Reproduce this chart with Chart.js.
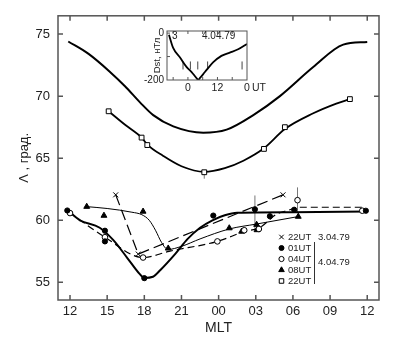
<!DOCTYPE html>
<html>
<head>
<meta charset="utf-8">
<script src="https://cdn.jsdelivr.net/npm/chart.js@4.4.1/dist/chart.umd.min.js"></script>
<style>
  html, body { margin: 0; padding: 0; background: #fff; }
  #wrap { position: relative; width: 418px; height: 340px; }
  #main { position: absolute; left: 0; top: 0; }
  #inset { position: absolute; left: 135px; top: 22px; }
</style>
</head>
<body>
<div id="wrap">
  <canvas id="main" width="418" height="340"></canvas>
  <canvas id="inset" width="140" height="75"></canvas>
</div>
<script>
// Main panel: latitude vs MLT (hours run on past midnight, 24 = 00, 36 = 12)
const mltTicks = [12, 15, 18, 21, 24, 27, 30, 33, 36];
const mltLabels = ['12', '15', '18', '21', '00', '03', '06', '09', '12'];
const latTicks = [55, 60, 65, 70, 75];

// upper smooth curve (no markers)
const outerCurve = [[11.86, 74.4], [13.5, 73.4], [15.23, 71.95], [16.44, 70.8], [17.65, 69.5], [18.72, 68.47],
  [20.34, 67.56], [22.76, 67.05], [24.65, 67.3], [26.8, 68.47], [28.95, 70.0], [31.64, 72.34], [34.06, 74.15], [36.0, 74.36]];

// 22UT 4.04.79 (open squares) and the smooth curve through them
const sq22UT = [[15.12, 68.78], [17.78, 66.66], [18.24, 66.06], [22.84, 63.87], [27.66, 65.75], [29.35, 67.5], [34.6, 69.76]];
const sqCurve = [[15.12, 68.78], [16.5, 67.65], [17.78, 66.66], [18.24, 66.1], [19.5, 65.2], [21.0, 64.35], [22.84, 63.9],
  [24.5, 64.2], [26.0, 64.8], [27.66, 65.8], [29.35, 67.35], [31.6, 68.6], [33.5, 69.4], [34.6, 69.76]];

// 22UT 3.04.79 (crosses, long dashes)
const x22UT = [[15.69, 62.05], [17.51, 57.28], [29.2, 62.05]];

// 01UT (filled circles, thick solid)
const c01UT = [[11.78, 60.79], [14.82, 59.16], [14.82, 58.3], [18.0, 55.34], [23.57, 60.38], [26.93, 60.89],
  [28.14, 60.33], [30.1, 60.85], [35.89, 60.77]];
const line01 = [[11.8, 60.8], [12.8, 60.0], [14.4, 59.4], [15.5, 58.4], [16.6, 57.0], [17.6, 55.7], [18.0, 55.35],
  [18.7, 55.45], [19.3, 56.0], [20.5, 57.3], [21.5, 58.5], [22.5, 59.4], [23.5, 60.0], [24.5, 60.4], [25.5, 60.6],
  [30.0, 60.65], [36.0, 60.7]];

// 04UT (open circles, dashed)
const o04UT = [[12.0, 60.58], [14.82, 58.64], [17.9, 57.0], [23.9, 58.3], [26.07, 59.2], [27.25, 59.3],
  [30.37, 61.62], [35.6, 60.77]];
const line04 = [[12.0, 60.6], [14.8, 58.65], [17.9, 57.0], [20.0, 57.5], [23.9, 58.3], [26.1, 59.1], [27.3, 59.4],
  [28.7, 60.5], [29.6, 60.8], [30.5, 61.05], [35.6, 61.05]];

// 08UT (filled triangles, thin solid)
const t08UT = [[13.35, 61.1], [14.74, 60.38], [17.9, 60.71], [19.93, 57.74], [24.86, 59.37], [25.86, 59.1],
  [27.07, 59.65], [27.1, 59.22], [30.43, 60.3]];
const line08 = [[13.35, 61.1], [15.0, 60.95], [17.0, 60.65], [17.8, 60.45], [18.4, 60.0], [18.9, 59.2], [19.4, 58.2],
  [19.9, 57.65], [21.0, 57.9], [22.5, 58.5], [24.86, 59.3], [27.07, 59.7], [30.43, 60.3]];

// vertical error bars: [mlt, low, high]
const errBars = [[22.84, 63.35, 63.9], [26.93, 59.2, 62.0], [30.37, 60.6, 62.65]];

const legendLabels = ['22UT', '01UT', '04UT', '08UT', '22UT'];
const legendDates = ['3.04.79', '4.04.79'];

// Inset: Dst, nT vs UT (hours from 0 UT on 4.04.79)
const dstCurve = [[-7.7, -7], [-6.0, -63], [-3.2, -104], [-0.5, -145], [1.5, -166], [3.5, -192], [4.2, -198],
  [5.0, -190], [6.9, -166], [10.2, -125], [13.6, -97], [17.0, -83], [20.4, -69], [24.0, -46]];
const obsTimes = [-2, 1, 4, 8, 22];
const obsLevel = -138;
const utTicks = [-6, 0, 6, 12, 18, 24];
const utLabels = { 0: '0', 12: '12', 24: '0' };
const dstTicks = [0, -100, -200];
const dstLabels = { 0: '0', '-200': '-200' };

Chart.defaults.font.family = "'Liberation Sans', Arial, sans-serif";
Chart.defaults.color = '#222';

const pts = arr => arr.map(([x, y]) => ({ x, y }));

function lineSet(data, width, dash, interp) {
  return {
    data: pts(data), borderColor: '#000', borderWidth: width, borderDash: dash || [],
    pointRadius: 0, fill: false, tension: 0,
    cubicInterpolationMode: interp ? 'monotone' : 'default'
  };
}
function markSet(data, style, fill, r) {
  return {
    data: pts(data), showLine: false, pointStyle: style, pointRadius: r,
    pointBackgroundColor: fill, pointBorderColor: '#000', pointBorderWidth: 1
  };
}

// frame with inward ticks on chosen sides
const frameTicks = {
  id: 'frameTicks',
  afterDatasetsDraw(chart, args, opts) {
    const { ctx, chartArea: a, scales: { x, y } } = chart;
    ctx.save();
    ctx.strokeStyle = opts.color;
    ctx.lineWidth = opts.width;
    ctx.strokeRect(a.left, a.top, a.right - a.left, a.bottom - a.top);
    ctx.beginPath();
    x.ticks.forEach(t => {
      const px = x.getPixelForValue(t.value);
      if (px <= a.left + 1 || px >= a.right - 1) return;
      ctx.moveTo(px, a.bottom); ctx.lineTo(px, a.bottom - opts.len);
      if (opts.top) { ctx.moveTo(px, a.top); ctx.lineTo(px, a.top + opts.len); }
    });
    y.ticks.forEach(t => {
      const py = y.getPixelForValue(t.value);
      if (py <= a.top + 1 || py >= a.bottom - 1) return;
      ctx.moveTo(a.left, py); ctx.lineTo(a.left + opts.len, py);
      if (opts.right) { ctx.moveTo(a.right, py); ctx.lineTo(a.right - opts.len, py); }
    });
    ctx.stroke();
    ctx.restore();
  }
};

// legend block in the lower right corner of the main panel
const legendBlock = {
  id: 'legendBlock',
  afterDraw(chart) {
    const { ctx } = chart;
    const markers = [
      { pointStyle: 'crossRot', radius: 3.2, fill: '#000' },
      { pointStyle: 'circle', radius: 2.5, fill: '#000' },
      { pointStyle: 'circle', radius: 2.6, fill: '#fff' },
      { pointStyle: 'triangle', radius: 3.2, fill: '#000' },
      { pointStyle: 'rect', radius: 3.2, fill: '#fff' }
    ];
    const x0 = 281.5, y0 = 237, step = 11;
    ctx.save();
    ctx.font = "9.5px 'Liberation Sans', Arial, sans-serif";
    ctx.textBaseline = 'middle';
    ctx.textAlign = 'left';
    legendLabels.forEach((lab, i) => {
      const yy = y0 + i * step;
      const m = markers[i];
      ctx.fillStyle = m.fill;
      ctx.strokeStyle = '#000';
      ctx.lineWidth = 1;
      Chart.helpers.drawPoint(ctx, { pointStyle: m.pointStyle, radius: m.radius, rotation: 0, borderWidth: 1 }, x0, yy);
      ctx.fillStyle = '#222';
      ctx.fillText(lab, x0 + 6.5, yy);
    });
    ctx.fillText(legendDates[0], 318, y0);
    ctx.fillText(legendDates[1], 318, 262.5);
    ctx.strokeStyle = '#333';
    ctx.lineWidth = 1;
    ctx.beginPath();
    ctx.moveTo(314.5, 242); ctx.lineTo(314.5, 284);
    ctx.stroke();
    ctx.restore();
  }
};

const errSets = errBars.map(([mx, lo, hi]) => ({
  data: [{ x: mx, y: lo }, { x: mx, y: hi }], borderColor: '#777', borderWidth: 1, pointRadius: 0, fill: false
}));

new Chart(document.getElementById('main'), {
  type: 'line',
  data: {
    datasets: [
      markSet(x22UT, 'crossRot', '#000', 3.5),
      markSet(c01UT, 'circle', '#000', 2.6),
      markSet(o04UT, 'circle', '#fff', 2.8),
      markSet(t08UT, 'triangle', '#000', 3.4),
      markSet(sq22UT, 'rect', '#fff', 3.4),
      lineSet(line01, 2, null, true),
      lineSet(line04, 1.2, [7, 4], true),
      lineSet(line08, 1, null, true),
      lineSet(x22UT, 1.2, [11, 5], false),
      lineSet(sqCurve, 1.8, null, true),
      lineSet(outerCurve, 2, null, true),
      ...errSets
    ]
  },
  options: {
    responsive: false,
    animation: false,
    layout: { padding: { top: 7, right: 39, left: 0, bottom: 0 } },
    plugins: {
      legend: { display: false },
      tooltip: { enabled: false },
      frameTicks: { color: '#555', width: 1.5, len: 5, top: true, right: true }
    },
    scales: {
      x: {
        type: 'linear', min: 11.03, max: 36.95,
        afterBuildTicks: s => { s.ticks = mltTicks.map(v => ({ value: v })); },
        afterFit: s => { s.height = 40; },
        grid: { display: false, drawTicks: false },
        border: { display: false },
        ticks: {
          padding: 4, autoSkip: false, maxRotation: 0, color: '#222', font: { size: 13 },
          callback: v => { const i = mltTicks.indexOf(v); return i < 0 ? '' : mltLabels[i]; }
        },
        title: { display: true, text: 'MLT', color: '#222', font: { size: 14 }, padding: { top: 0, bottom: 3 } }
      },
      y: {
        min: 53.58, max: 76.47,
        afterBuildTicks: s => { s.ticks = latTicks.map(v => ({ value: v })); },
        afterFit: s => { s.width = 58; },
        grid: { display: false, drawTicks: false },
        border: { display: false },
        ticks: { padding: 8, color: '#222', font: { size: 13 }, callback: v => String(v) },
        title: { display: true, text: 'Λ , град.', color: '#222', font: { size: 13 }, padding: { top: 17, bottom: 0 } }
      }
    }
  },
  plugins: [frameTicks, legendBlock]
});

// inset texts
const insetNotes = {
  id: 'insetNotes',
  afterDraw(chart) {
    const { ctx, chartArea: a, scales: { x } } = chart;
    ctx.save();
    ctx.font = "10px 'Liberation Sans', Arial, sans-serif";
    ctx.fillStyle = '#222';
    ctx.textBaseline = 'middle';
    ctx.fillText('3', a.left + 5, a.top + 5);
    ctx.textAlign = 'center';
    ctx.fillText('4.04.79', x.getPixelForValue(12.5), a.top + 5);
    ctx.textAlign = 'left';
    ctx.font = "10.5px 'Liberation Sans', Arial, sans-serif";
    ctx.fillText('UT', x.getPixelForValue(24) + 5, a.bottom + 8.5);
    ctx.restore();
  }
};

new Chart(document.getElementById('inset'), {
  type: 'line',
  data: {
    datasets: [
      lineSet(dstCurve, 1.8, null, true),
      {
        data: obsTimes.map(t => ({ x: t, y: obsLevel })), showLine: false,
        pointStyle: 'line', rotation: 90, pointRadius: 4, pointBorderColor: '#444', pointBorderWidth: 1
      }
    ]
  },
  options: {
    responsive: false,
    animation: false,
    layout: { padding: { top: 7, right: 28, left: 0, bottom: 0 } },
    plugins: {
      legend: { display: false },
      tooltip: { enabled: false },
      frameTicks: { color: '#555', width: 1, len: 3, top: true, right: false }
    },
    scales: {
      x: {
        type: 'linear', min: -8.5, max: 24,
        afterBuildTicks: s => { s.ticks = utTicks.map(v => ({ value: v })); },
        afterFit: s => { s.height = 17; },
        grid: { display: false, drawTicks: false },
        border: { display: false },
        ticks: { padding: 2, autoSkip: false, maxRotation: 0, color: '#222', font: { size: 10.5 },
          callback: v => utLabels[v] ?? '' }
      },
      y: {
        min: -200, max: 9,
        afterBuildTicks: s => { s.ticks = dstTicks.map(v => ({ value: v })); },
        afterFit: s => { s.width = 32; },
        grid: { display: false, drawTicks: false },
        border: { display: false },
        ticks: { padding: 3, color: '#222', font: { size: 10 }, callback: v => dstLabels[v] ?? '' },
        title: { display: true, text: 'Dst, нТл', color: '#222', font: { size: 9.5 }, padding: { top: 17, bottom: 0 } }
      }
    }
  },
  plugins: [frameTicks, insetNotes]
});
</script>
</body>
</html>
